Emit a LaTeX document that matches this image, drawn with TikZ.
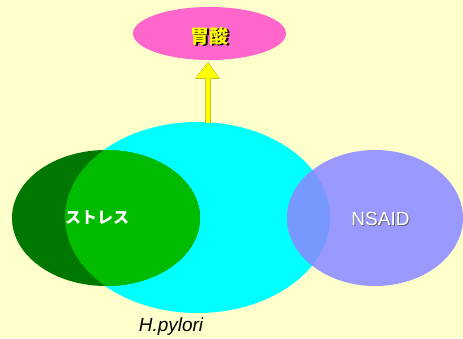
\documentclass[tikz,border=0pt]{standalone}
\usepackage{fontspec}
\setmainfont{Liberation Sans}
\newfontfamily\jpfont{Noto Sans CJK JP}
\usetikzlibrary{shapes.geometric,calc}

\definecolor{bgyellow}{HTML}{FFFFCC}
\definecolor{acidpink}{HTML}{FF66CC}
\definecolor{hpcyan}{HTML}{00FFFF}
\definecolor{stressdark}{HTML}{007700}
\definecolor{stresslight}{HTML}{00BB00}
\definecolor{nsaidblue}{HTML}{9999FF}
\definecolor{nsaidmix}{HTML}{7799FF}
\definecolor{arrowyellow}{HTML}{FFFF00}

\tikzset{
  blob/.style={ellipse, draw=none, inner sep=0pt},
  jplabel/.style={font=\jpfont\bfseries\fontsize{16}{18}\selectfont},
  acidlabel/.style={font=\jpfont\bfseries\fontsize{19}{21}\selectfont},
  latinlabel/.style={font=\fontsize{19}{22}\selectfont},
}

\begin{document}
\begin{tikzpicture}[x=1pt,y=-1pt]
  % canvas
  \fill[bgyellow] (0,0) rectangle (463,338);
  \useasboundingbox (0,0) rectangle (463,338);

  % H. pylori region
  \node[blob, fill=hpcyan, minimum width=265pt, minimum height=191pt] (hp) at (197.5,217.5) {};

  % stress region, lighter where it overlaps H. pylori
  \node[blob, fill=stressdark, minimum width=188pt, minimum height=136pt] (stress) at (106,218) {};
  \begin{scope}
    \clip (197.5,217.5) ellipse [x radius=132.5pt, y radius=95.5pt];
    \fill[stresslight] (106,218) ellipse [x radius=94pt, y radius=68pt];
  \end{scope}

  % NSAID region, bluer where it overlaps H. pylori
  \node[blob, fill=nsaidblue, minimum width=176pt, minimum height=136pt] (nsaid) at (375,218) {};
  \begin{scope}
    \clip (197.5,217.5) ellipse [x radius=132.5pt, y radius=95.5pt];
    \fill[nsaidmix] (375,218) ellipse [x radius=88pt, y radius=68pt];
  \end{scope}

  % gastric acid
  \node[blob, fill=acidpink, minimum width=153pt, minimum height=53pt] (acid) at (209.5,33.5) {};

  % block arrow from H. pylori straight up to gastric acid
  \coordinate (tip) at ($(acid.south)+(-1.5,2)$);
  \coordinate (tail) at ($(tip |- hp.north)+(0,1)$);
  \foreach \dx/\dy/\col in {2/1/black, 0/0/arrowyellow}{
    \fill[\col, shift={(\dx,\dy)}]
      ($(tail)+(-2.5,0)$) -- ($(tail)+(2.7,0)$) --
      ($(tip)+(2.7,16.5)$) -- ($(tip)+(11.5,16.5)$) -- (tip) --
      ($(tip)+(-12.5,16.5)$) -- ($(tip)+(-2.5,16.5)$) -- cycle;
  }

  % labels
  \node[acidlabel, text=black] (acidshadow) at ($(acid)+(1.5,3.7)$) {胃酸};
  \node[acidlabel, text=arrowyellow] (acidtext) at ($(acid)+(0,2.5)$) {胃酸};
  \node[jplabel, text=white] (stresstext) at (97,218) {ストレス};
  \node[latinlabel, text=black!60] (nsaidshadow) at (381.5,219.5) {NSAID};
  \node[latinlabel, text=white] (nsaidtext) at (380.5,218.5) {NSAID};
  \node[font=\itshape\fontsize{19}{21}\selectfont, text=black] (hplabel) at (171,327) {H.pylori};
\end{tikzpicture}
\end{document}
